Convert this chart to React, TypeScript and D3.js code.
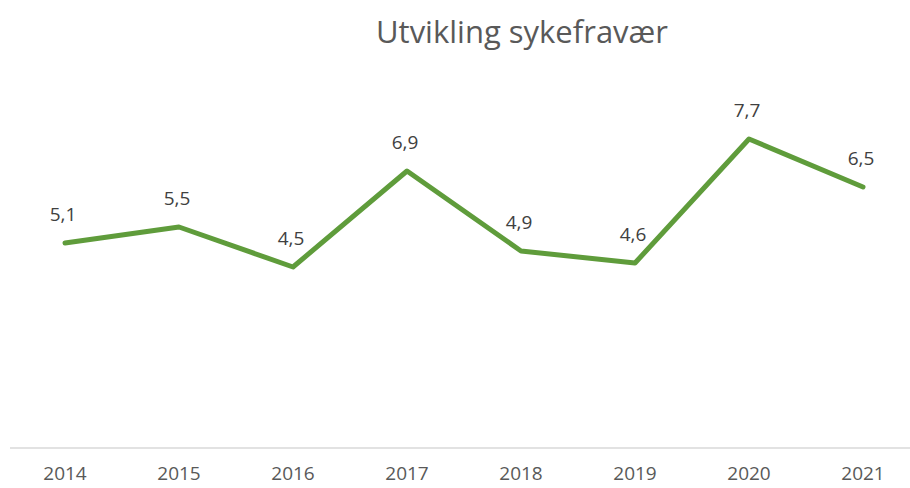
import * as d3 from "d3";
import { useEffect, useRef } from "react";

const years = ["2014", "2015", "2016", "2017", "2018", "2019", "2020", "2021"];
const sickLeave = [5.1, 5.5, 4.5, 6.9, 4.9, 4.6, 7.7, 6.5];

export default function App() {
  const ref = useRef<SVGSVGElement | null>(null);
  const width = 910;
  const height = 488;

  useEffect(() => {
    const svg = d3.select(ref.current);
    svg.selectAll("*").remove();

    const font = "Open Sans, Calibri, sans-serif";
    const x = d3.scaleBand<string>().domain(years).range([8, 920]);
    const y = d3.scaleLinear().domain([0, 9]).range([447, 87]);
    const cx = (d: string) => x(d)! + x.bandwidth() / 2;

    // title
    svg
      .append("text")
      .attr("x", 522)
      .attr("y", 43)
      .attr("text-anchor", "middle")
      .style("font-family", font)
      .style("font-size", "31px")
      .style("fill", "#595959")
      .text("Utvikling sykefravær");

    // x axis line
    svg
      .append("line")
      .attr("x1", 10)
      .attr("x2", 918)
      .attr("y1", 448)
      .attr("y2", 448)
      .style("stroke", "#d9d9d9")
      .style("stroke-width", 1.5);

    svg
      .append("g")
      .selectAll("text")
      .data(years)
      .enter()
      .append("text")
      .attr("x", (d) => cx(d))
      .attr("y", 480)
      .attr("text-anchor", "middle")
      .style("font-family", font)
      .style("font-size", "19px")
      .style("fill", "#595959")
      .text((d) => d);

    const line = d3
      .line<number>()
      .x((_, i) => cx(years[i]))
      .y((d) => y(d));

    svg
      .append("path")
      .datum(sickLeave)
      .attr("d", line)
      .style("fill", "none")
      .style("stroke", "#5f9c3b")
      .style("stroke-width", 5)
      .style("stroke-linecap", "round")
      .style("stroke-linejoin", "round");

    svg
      .append("g")
      .selectAll("text")
      .data(sickLeave)
      .enter()
      .append("text")
      .attr("x", (_, i) => cx(years[i]) - 2)
      .attr("y", (d) => y(d) - 22)
      .attr("text-anchor", "middle")
      .style("font-family", font)
      .style("font-size", "19px")
      .style("fill", "#404040")
      .text((d) => d.toFixed(1).replace(".", ","));
  }, []);

  return (
    <svg
      ref={ref}
      width={width}
      height={height}
      style={{ position: "absolute", left: 0, top: 0, background: "#fff" }}
    ></svg>
  );
}
